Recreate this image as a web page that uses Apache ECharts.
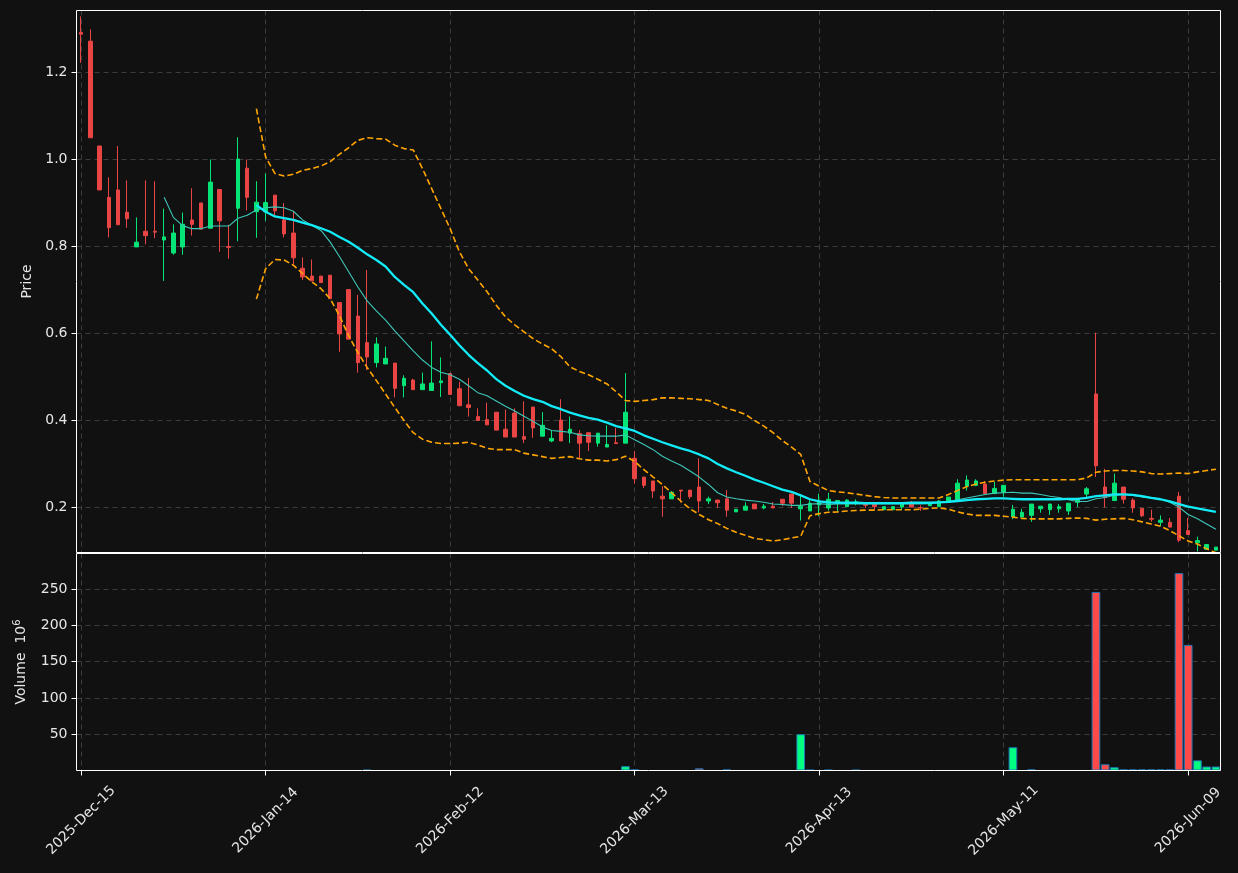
<!DOCTYPE html>
<html>
<head>
<meta charset="utf-8">
<title>Price / Volume</title>
<script src="https://cdn.jsdelivr.net/npm/echarts@6/dist/echarts.min.js"></script>
<style>
    html, body { margin: 0; padding: 0; background: #111111; }
    #priceChart { width: 1238px; height: 873px; }
</style>
</head>
<body>
<div id="priceChart"></div>
<script>
// trading days (categories)
var dates = [
    '2025-Dec-15','2025-Dec-16','2025-Dec-17','2025-Dec-18','2025-Dec-19','2025-Dec-22','2025-Dec-23','2025-Dec-24','2025-Dec-26','2025-Dec-29',
    '2025-Dec-30','2025-Dec-31','2026-Jan-02','2026-Jan-05','2026-Jan-06','2026-Jan-07','2026-Jan-08','2026-Jan-09','2026-Jan-12','2026-Jan-13',
    '2026-Jan-14','2026-Jan-15','2026-Jan-16','2026-Jan-20','2026-Jan-21','2026-Jan-22','2026-Jan-23','2026-Jan-26','2026-Jan-27','2026-Jan-28',
    '2026-Jan-29','2026-Jan-30','2026-Feb-02','2026-Feb-03','2026-Feb-04','2026-Feb-05','2026-Feb-06','2026-Feb-09','2026-Feb-10','2026-Feb-11',
    '2026-Feb-12','2026-Feb-13','2026-Feb-17','2026-Feb-18','2026-Feb-19','2026-Feb-20','2026-Feb-23','2026-Feb-24','2026-Feb-25','2026-Feb-26',
    '2026-Feb-27','2026-Mar-02','2026-Mar-03','2026-Mar-04','2026-Mar-05','2026-Mar-06','2026-Mar-09','2026-Mar-10','2026-Mar-11','2026-Mar-12',
    '2026-Mar-13','2026-Mar-16','2026-Mar-17','2026-Mar-18','2026-Mar-19','2026-Mar-20','2026-Mar-23','2026-Mar-24','2026-Mar-25','2026-Mar-26',
    '2026-Mar-27','2026-Mar-30','2026-Mar-31','2026-Apr-01','2026-Apr-02','2026-Apr-06','2026-Apr-07','2026-Apr-08','2026-Apr-09','2026-Apr-10',
    '2026-Apr-13','2026-Apr-14','2026-Apr-15','2026-Apr-16','2026-Apr-17','2026-Apr-20','2026-Apr-21','2026-Apr-22','2026-Apr-23','2026-Apr-24',
    '2026-Apr-27','2026-Apr-28','2026-Apr-29','2026-Apr-30','2026-May-01','2026-May-04','2026-May-05','2026-May-06','2026-May-07','2026-May-08',
    '2026-May-11','2026-May-12','2026-May-13','2026-May-14','2026-May-15','2026-May-18','2026-May-19','2026-May-20','2026-May-21','2026-May-22',
    '2026-May-26','2026-May-27','2026-May-28','2026-May-29','2026-Jun-01','2026-Jun-02','2026-Jun-03','2026-Jun-04','2026-Jun-05','2026-Jun-08',
    '2026-Jun-09','2026-Jun-10','2026-Jun-11','2026-Jun-12'
];

var opens = [
    1.292,1.272,1.031,0.913,0.930,0.879,0.799,0.835,0.835,0.815,
    0.785,0.799,0.861,0.900,0.842,0.931,0.800,0.888,0.980,0.880,
    0.880,0.918,0.861,0.831,0.750,0.732,0.732,0.734,0.671,0.701,
    0.640,0.579,0.533,0.530,0.532,0.480,0.493,0.471,0.469,0.487,
    0.508,0.473,0.436,0.409,0.402,0.419,0.380,0.417,0.363,0.431,
    0.364,0.353,0.401,0.371,0.370,0.372,0.348,0.339,0.349,0.348,
    0.313,0.270,0.261,0.226,0.220,0.240,0.240,0.247,0.215,0.217,
    0.220,0.190,0.194,0.208,0.199,0.203,0.219,0.231,0.197,0.192,
    0.206,0.199,0.213,0.202,0.210,0.208,0.208,0.195,0.195,0.201,
    0.208,0.200,0.204,0.202,0.212,0.218,0.249,0.251,0.254,0.232,
    0.235,0.179,0.178,0.182,0.197,0.195,0.197,0.192,0.212,0.231,
    0.461,0.247,0.216,0.247,0.217,0.198,0.175,0.166,0.166,0.226,
    0.147,0.119,0.104,0.102
];
var closes = [
    1.288,1.050,0.930,0.843,0.850,0.864,0.810,0.825,0.833,0.822,
    0.831,0.851,0.851,0.840,0.948,0.859,0.798,1.001,0.913,0.902,
    0.901,0.882,0.829,0.774,0.730,0.721,0.717,0.680,0.599,0.587,
    0.533,0.546,0.576,0.543,0.474,0.497,0.471,0.484,0.486,0.491,
    0.460,0.434,0.430,0.400,0.390,0.378,0.362,0.362,0.357,0.383,
    0.389,0.359,0.353,0.380,0.348,0.350,0.371,0.345,0.347,0.419,
    0.266,0.251,0.238,0.220,0.235,0.238,0.225,0.215,0.220,0.211,
    0.194,0.196,0.203,0.197,0.203,0.199,0.210,0.210,0.203,0.210,
    0.215,0.219,0.216,0.217,0.213,0.205,0.202,0.202,0.202,0.208,
    0.201,0.199,0.208,0.215,0.224,0.256,0.263,0.261,0.232,0.244,
    0.251,0.196,0.189,0.208,0.203,0.208,0.202,0.210,0.218,0.243,
    0.296,0.223,0.256,0.219,0.199,0.181,0.173,0.171,0.155,0.125,
    0.138,0.124,0.115,0.109
];
var lows = [
    1.222,1.050,0.930,0.821,0.850,0.843,0.799,0.805,0.819,0.721,
    0.781,0.781,0.825,0.840,0.842,0.788,0.772,0.812,0.883,0.820,
    0.859,0.871,0.821,0.759,0.723,0.721,0.717,0.680,0.558,0.587,
    0.510,0.516,0.522,0.530,0.453,0.453,0.471,0.471,0.469,0.454,
    0.460,0.434,0.409,0.400,0.390,0.378,0.362,0.362,0.348,0.360,
    0.364,0.350,0.353,0.348,0.312,0.330,0.340,0.339,0.347,0.348,
    0.255,0.245,0.222,0.179,0.220,0.211,0.220,0.189,0.208,0.199,
    0.179,0.190,0.194,0.197,0.196,0.199,0.203,0.199,0.170,0.192,
    0.180,0.193,0.191,0.202,0.205,0.199,0.194,0.195,0.195,0.194,
    0.201,0.192,0.204,0.202,0.212,0.218,0.239,0.249,0.230,0.232,
    0.225,0.173,0.178,0.167,0.188,0.183,0.188,0.183,0.201,0.220,
    0.270,0.200,0.216,0.209,0.188,0.178,0.167,0.157,0.155,0.121,
    0.138,0.099,0.104,0.102
];
var highs = [
    1.329,1.299,1.031,0.959,1.031,0.952,0.867,0.952,0.950,0.887,
    0.851,0.878,0.934,0.900,1.000,0.931,0.850,1.051,1.000,0.950,
    0.968,0.918,0.900,0.882,0.775,0.770,0.732,0.734,0.671,0.701,
    0.689,0.746,0.591,0.570,0.532,0.504,0.496,0.510,0.582,0.545,
    0.508,0.489,0.498,0.428,0.441,0.419,0.425,0.428,0.444,0.431,
    0.419,0.378,0.449,0.409,0.378,0.372,0.371,0.389,0.383,0.509,
    0.330,0.270,0.261,0.249,0.238,0.240,0.240,0.313,0.225,0.217,
    0.240,0.196,0.212,0.208,0.208,0.213,0.219,0.231,0.226,0.217,
    0.232,0.234,0.216,0.219,0.219,0.209,0.208,0.202,0.202,0.208,
    0.215,0.205,0.209,0.217,0.224,0.265,0.274,0.265,0.261,0.259,
    0.251,0.206,0.197,0.208,0.203,0.208,0.208,0.210,0.219,0.247,
    0.602,0.289,0.278,0.247,0.221,0.198,0.195,0.182,0.176,0.236,
    0.176,0.133,0.115,0.109
];

// volume, millions
var volumes = [
    0,0,0,0,0,0,0,0,0,0,
    0,0,0,0,0,0,0,0,0,0,
    0,0,0,0,0,0,0,0,0,0,
    0,1,0,0,0,0,0,0,0,0,
    0,0,0,0,0,0,0,0,0,0,
    0,0,0,0,0,0,0,0,0,6,
    1.5,0,0,0,0,0,0,3,0,0,
    1.5,0,0,0,0,0,0,0,50,1,
    0,1,0,0,1,0,0,0,0,0,
    0,0,0,0,0,0,0,0,0,0,
    0,32,0,1.5,0,0,0,0,0,0,
    246,8.6,4.5,1.5,1.5,1.5,1.5,1.5,1.5,272,
    173,14,5.5,5.5
];

var ma10 = [
    null,null,null,null,null,null,null,null,null,0.913,
    0.867,0.848,0.841,0.841,0.847,0.847,0.847,0.865,0.872,0.884,
    0.889,0.891,0.889,0.881,0.861,0.849,0.837,0.810,0.777,0.742,
    0.707,0.675,0.652,0.631,0.606,0.583,0.560,0.539,0.522,0.511,
    0.505,0.495,0.480,0.464,0.457,0.445,0.433,0.422,0.410,0.398,
    0.385,0.377,0.375,0.373,0.367,0.365,0.364,0.364,0.364,0.367,
    0.356,0.345,0.333,0.318,0.307,0.297,0.284,0.270,0.253,0.234,
    0.224,0.220,0.217,0.215,0.212,0.208,0.207,0.205,0.205,0.208,
    0.209,0.207,0.208,0.208,0.208,0.208,0.208,0.208,0.208,0.208,
    0.208,0.208,0.209,0.211,0.214,0.218,0.222,0.226,0.230,0.233,
    0.234,0.235,0.233,0.233,0.230,0.226,0.223,0.218,0.214,0.214,
    0.220,0.223,0.228,0.230,0.228,0.224,0.222,0.219,0.212,0.201,
    0.184,0.174,0.162,0.150
];
var ma20 = [
    null,null,null,null,null,null,null,null,null,null,
    null,null,null,null,null,null,null,null,null,0.895,
    0.880,0.869,0.865,0.861,0.855,0.849,0.842,0.834,0.822,0.811,
    0.797,0.782,0.769,0.754,0.730,0.712,0.695,0.669,0.646,0.620,
    0.597,0.573,0.551,0.532,0.515,0.495,0.480,0.468,0.457,0.449,
    0.443,0.433,0.426,0.418,0.412,0.406,0.402,0.395,0.387,0.382,
    0.376,0.366,0.358,0.350,0.343,0.336,0.330,0.322,0.313,0.300,
    0.290,0.281,0.273,0.264,0.257,0.249,0.241,0.236,0.228,0.219,
    0.214,0.212,0.211,0.211,0.211,0.210,0.210,0.210,0.210,0.210,
    0.211,0.211,0.211,0.212,0.213,0.215,0.217,0.219,0.220,0.221,
    0.221,0.220,0.219,0.219,0.219,0.219,0.219,0.220,0.220,0.222,
    0.226,0.228,0.230,0.230,0.229,0.226,0.222,0.219,0.214,0.208,
    0.202,0.198,0.194,0.190
];
var bandUpper = [
    null,null,null,null,null,null,null,null,null,null,
    null,null,null,null,null,null,null,null,null,1.117,
    1.006,0.968,0.962,0.966,0.975,0.979,0.985,0.995,1.012,1.027,
    1.044,1.050,1.048,1.047,1.033,1.025,1.022,0.979,0.933,0.887,
    0.841,0.788,0.749,0.723,0.696,0.665,0.638,0.620,0.604,0.588,
    0.576,0.565,0.547,0.523,0.513,0.505,0.495,0.484,0.466,0.446,
    0.444,0.446,0.448,0.452,0.452,0.451,0.450,0.448,0.446,0.437,
    0.428,0.422,0.414,0.400,0.387,0.372,0.354,0.339,0.322,0.260,
    0.249,0.239,0.236,0.234,0.231,0.228,0.225,0.223,0.222,0.222,
    0.222,0.222,0.222,0.222,0.230,0.239,0.248,0.254,0.258,0.261,
    0.263,0.264,0.264,0.264,0.264,0.264,0.264,0.264,0.264,0.268,
    0.281,0.284,0.285,0.285,0.284,0.282,0.278,0.277,0.278,0.279,
    0.278,0.282,0.285,0.288
];
var bandLower = [
    null,null,null,null,null,null,null,null,null,null,
    null,null,null,null,null,null,null,null,null,0.679,
    0.749,0.770,0.769,0.757,0.738,0.719,0.703,0.680,0.641,0.595,
    0.556,0.522,0.492,0.461,0.430,0.400,0.372,0.357,0.350,0.347,
    0.347,0.348,0.350,0.344,0.336,0.333,0.333,0.333,0.325,0.321,
    0.317,0.313,0.315,0.317,0.312,0.309,0.309,0.307,0.310,0.318,
    0.306,0.287,0.270,0.253,0.234,0.215,0.197,0.184,0.172,0.163,
    0.152,0.143,0.136,0.129,0.126,0.123,0.126,0.130,0.134,0.181,
    0.186,0.189,0.190,0.192,0.193,0.194,0.194,0.195,0.195,0.195,
    0.195,0.196,0.198,0.199,0.196,0.190,0.185,0.182,0.182,0.182,
    0.180,0.178,0.175,0.174,0.174,0.174,0.174,0.175,0.176,0.175,
    0.171,0.173,0.174,0.175,0.172,0.167,0.162,0.157,0.147,0.135,
    0.123,0.116,0.105,0.096
];

var upColor = '#05e476', downColor = '#e94545';
var volUp = '#00ff80', volDown = '#ff4a4a';
var textColor = '#e6e6e6';
var fontName = 'DejaVu Sans';

var chartDom = document.getElementById('priceChart');
var priceChart = echarts.init(chartDom, null, { renderer: 'canvas' });

var candleData = [];
var volumeData = [];
for (var i = 0; i < dates.length; i++) {
    candleData.push([opens[i], closes[i], lows[i], highs[i]]);
    volumeData.push({
        value: volumes[i],
        itemStyle: {
            color: closes[i] >= opens[i] ? volUp : volDown,
            borderWidth: volumes[i] > 0 ? 1 : 0   // empty days: no outline
        }
    });
}

var gridLine = { show: true, interval: 19, alignWithLabel: true, lineStyle: { color: '#3d3d3d', type: [5, 4], width: 1 } };
var ySplit = { show: true, lineStyle: { color: '#3d3d3d', type: [5, 4], width: 1 } };

var option = {
    backgroundColor: '#111111',
    animation: false,
    textStyle: { fontFamily: fontName },
    // grids sit above the series so the white frame stays on top; half-pixel edges keep it crisp
    grid: [
        { left: 76.5, width: 1144, top: 10.5, height: 542, z: 10, show: true, borderColor: '#ffffff', borderWidth: 1, backgroundColor: 'transparent' },
        { left: 76.5, width: 1144, top: 553.5, height: 217, z: 10, show: true, borderColor: '#ffffff', borderWidth: 1, backgroundColor: 'transparent' }
    ],
    xAxis: [
        {
            type: 'category', gridIndex: 0, data: dates, boundaryGap: true,
            axisLine: { show: false }, axisTick: { show: false }, axisLabel: { show: false },
            splitLine: gridLine
        },
        {
            type: 'category', gridIndex: 1, data: dates, boundaryGap: true,
            axisLine: { show: false },
            axisTick: { show: true, interval: 19, alignWithLabel: true, length: 5, lineStyle: { color: '#ffffff' } },
            axisLabel: {
                interval: 19, rotate: 45, align: 'center', verticalAlign: 'middle', margin: 50,
                color: textColor, fontSize: 14, fontFamily: fontName
            },
            splitLine: gridLine
        }
    ],
    yAxis: [
        {
            type: 'value', gridIndex: 0, min: 0.0966, max: 1.3425, splitNumber: 6, scale: true,
            name: 'Price', nameLocation: 'middle', nameRotate: 90, nameGap: 42,
            nameTextStyle: { color: textColor, fontSize: 14, fontFamily: fontName },
            axisLine: { show: false },
            axisTick: { show: true, length: 5, lineStyle: { color: '#ffffff' } },
            axisLabel: {
                color: textColor, fontSize: 14, margin: 9, showMinLabel: false, showMaxLabel: false,
                formatter: function (v) { return v.toFixed(1); }
            },
            splitLine: ySplit
        },
        {
            type: 'value', gridIndex: 1, min: 0, max: 299, interval: 50,
            name: '{v|Volume  10}{s|6}', nameLocation: 'middle', nameRotate: 90, nameGap: 46,
            nameTextStyle: {
                color: textColor, fontSize: 14, fontFamily: fontName,
                rich: {
                    v: { color: textColor, fontSize: 14, fontFamily: fontName },
                    s: { color: textColor, fontSize: 10, fontFamily: fontName, verticalAlign: 'top', padding: [0, 0, 8, 0] }
                }
            },
            axisLine: { show: false },
            axisTick: { show: true, length: 5, lineStyle: { color: '#ffffff' } },
            axisLabel: { color: textColor, fontSize: 14, margin: 9, showMinLabel: false, showMaxLabel: false },
            splitLine: ySplit
        }
    ],
    series: [
        {
            name: 'OHLC', type: 'candlestick', xAxisIndex: 0, yAxisIndex: 0,
            data: candleData, barWidth: 4,
            itemStyle: { color: upColor, color0: downColor, borderColor: upColor, borderColor0: downColor, borderWidth: 1 },
            z: 2
        },
        {
            name: 'MA10', type: 'line', xAxisIndex: 0, yAxisIndex: 0, data: ma10,
            showSymbol: false, symbol: 'none', lineStyle: { color: '#3ec8b9', width: 1.1 }, z: 3
        },
        {
            name: 'MA20', type: 'line', xAxisIndex: 0, yAxisIndex: 0, data: ma20,
            showSymbol: false, symbol: 'none', lineStyle: { color: '#12ecf8', width: 2.3 }, z: 4
        },
        {
            name: 'Upper', type: 'line', xAxisIndex: 0, yAxisIndex: 0, data: bandUpper,
            showSymbol: false, symbol: 'none', lineStyle: { color: '#ffa500', width: 1.6, type: [6, 3] }, z: 5
        },
        {
            name: 'Lower', type: 'line', xAxisIndex: 0, yAxisIndex: 0, data: bandLower,
            showSymbol: false, symbol: 'none', lineStyle: { color: '#ffa500', width: 1.6, type: [6, 3] }, z: 5
        },
        {
            name: 'Volume', type: 'bar', xAxisIndex: 1, yAxisIndex: 1, data: volumeData,
            barCategoryGap: '6%',
            itemStyle: { borderColor: '#1f77b4', borderWidth: 1 }
        }
    ]
};

priceChart.setOption(option);

window.onresize = function () {
    priceChart.resize();
};
</script>
</body>
</html>
